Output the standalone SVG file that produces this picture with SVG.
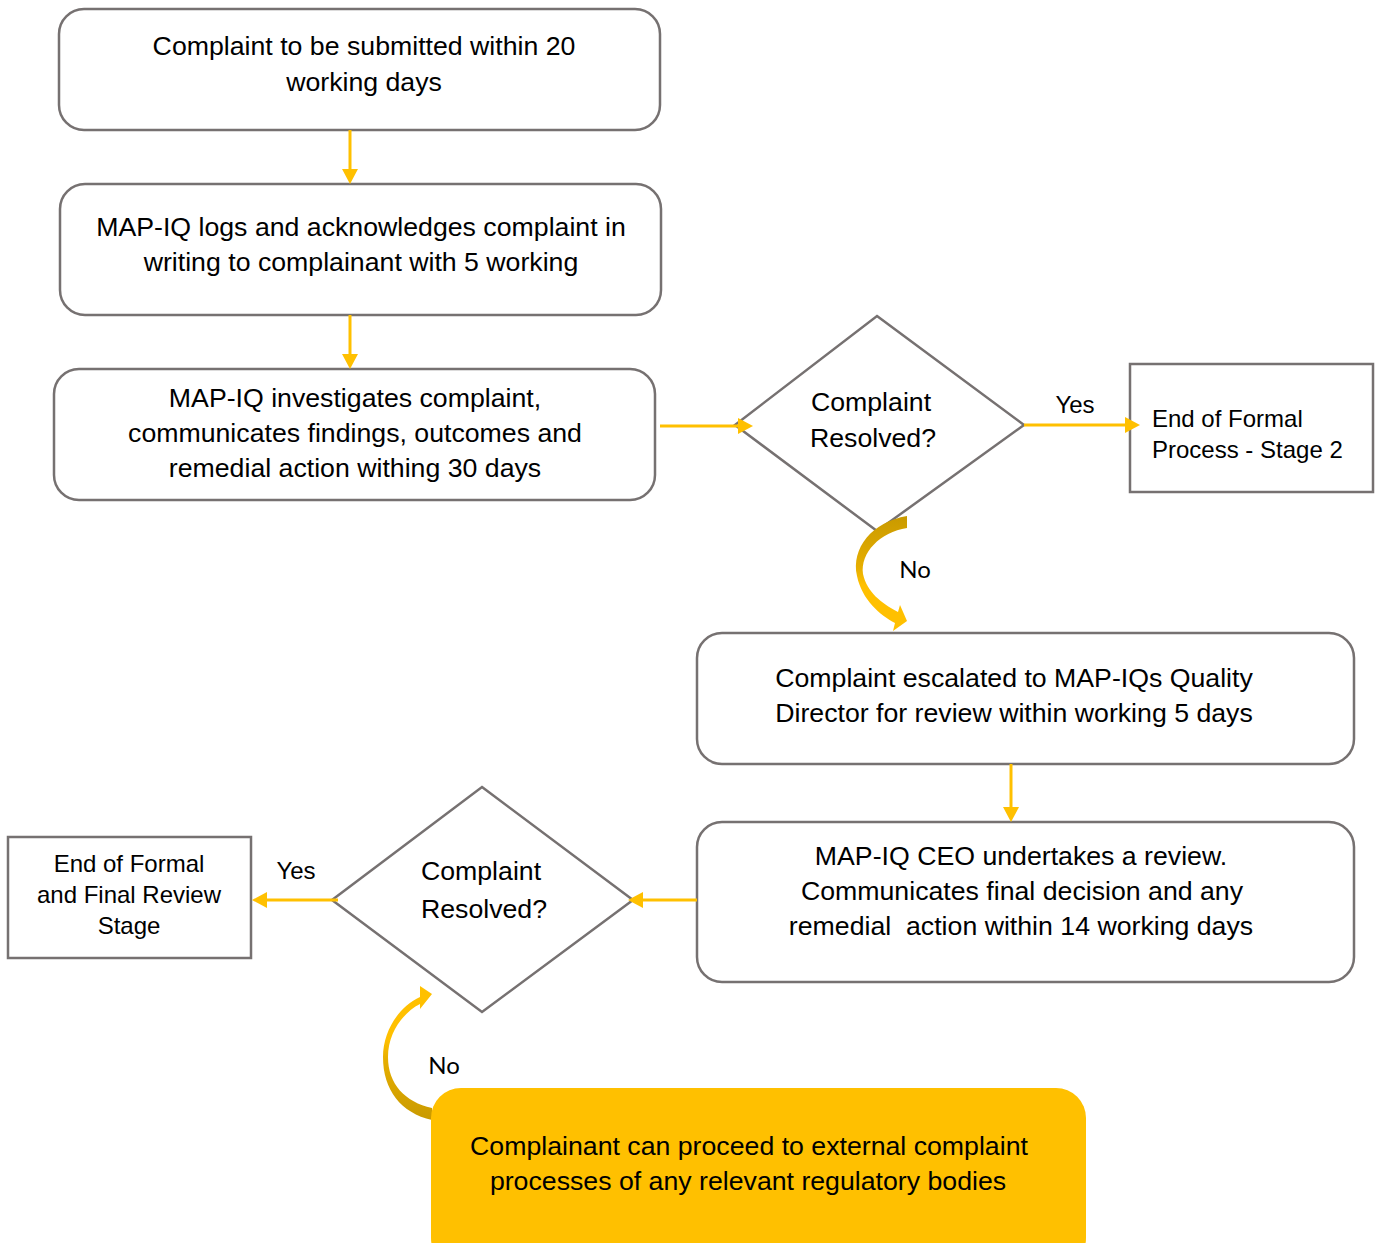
<svg xmlns="http://www.w3.org/2000/svg" width="1377" height="1243" viewBox="0 0 1377 1243">
<defs>
<style>
.box{fill:#fff;stroke:#767171;stroke-width:2.5}
.dia{fill:#fff;stroke:#767171;stroke-width:2.5}
.t{font-family:"Liberation Sans",Arial,sans-serif;font-size:26.7px;fill:#000;text-anchor:middle}
.s{font-family:"Liberation Sans",Arial,sans-serif;font-size:24px;fill:#000}
.no{font-family:Lato,"Liberation Sans",sans-serif;font-size:24px;fill:#000}
.ln{stroke:#FFC000;stroke-width:3;fill:none}
.hd{fill:#FFC000}
</style>
<linearGradient id="g1" x1="0" y1="0" x2="0" y2="1">
<stop offset="0" stop-color="#C99A00"/>
<stop offset="0.45" stop-color="#E6AE00"/>
<stop offset="0.6" stop-color="#FFC000"/>
<stop offset="1" stop-color="#FFC000"/>
</linearGradient>
<linearGradient id="g2" x1="0" y1="1" x2="0" y2="0">
<stop offset="0" stop-color="#C99A00"/>
<stop offset="0.45" stop-color="#E6AE00"/>
<stop offset="0.6" stop-color="#FFC000"/>
<stop offset="1" stop-color="#FFC000"/>
</linearGradient>
</defs>

<g id="n1"><rect class="box" x="59" y="9" width="601" height="121" rx="25"/>
<text class="t" x="364" y="55">Complaint to be submitted within 20</text>
<text class="t" x="364" y="91">working days</text></g>

<g id="n2"><rect class="box" x="60" y="184" width="601" height="131" rx="25"/>
<text class="t" x="361" y="236">MAP-IQ logs and acknowledges complaint in</text>
<text class="t" x="361" y="271">writing to complainant with 5 working</text></g>

<g id="n3"><rect class="box" x="54" y="369" width="601" height="131" rx="25"/>
<text class="t" x="355" y="407">MAP-IQ investigates complaint,</text>
<text class="t" x="355" y="442">communicates findings, outcomes and</text>
<text class="t" x="355" y="477">remedial action withing 30 days</text></g>

<g id="d1"><polygon class="dia" points="877,316 1024,425 877,531 735,425"/>
<text class="t" x="871" y="411">Complaint</text>
<text class="t" x="873" y="447">Resolved?</text></g>

<g id="e1"><rect class="box" x="1130" y="364" width="243" height="128"/>
<text class="s" x="1152" y="427">End of Formal</text>
<text class="s" x="1152" y="458">Process - Stage 2</text></g>

<g id="n4"><rect class="box" x="697" y="633" width="657" height="131" rx="25"/>
<text class="t" x="1014" y="687">Complaint escalated to MAP-IQs Quality</text>
<text class="t" x="1014" y="722">Director for review within working 5 days</text></g>

<g id="n5"><rect class="box" x="697" y="822" width="657" height="160" rx="25"/>
<text class="t" x="1021" y="865">MAP-IQ CEO undertakes a review.</text>
<text class="t" x="1022" y="900">Communicates final decision and any</text>
<text class="t" x="1021" y="935" xml:space="preserve">remedial  action within 14 working days</text></g>

<g id="d2"><polygon class="dia" points="482,787 633,900 482,1012 332,900"/>
<text class="t" x="481" y="880">Complaint</text>
<text class="t" x="484" y="918">Resolved?</text></g>

<g id="e2"><rect class="box" x="8" y="837" width="243" height="121"/>
<text class="s" x="129" y="872" text-anchor="middle">End of Formal</text>
<text class="s" x="129" y="903" text-anchor="middle">and Final Review</text>
<text class="s" x="129" y="934" text-anchor="middle">Stage</text></g>

<g id="connectors">
<line class="ln" x1="350" y1="130" x2="350" y2="170"/>
<polygon class="hd" points="342,169 358,169 350,184"/>
<line class="ln" x1="350" y1="315" x2="350" y2="355"/>
<polygon class="hd" points="342,354 358,354 350,369"/>
<line class="ln" x1="660" y1="426" x2="740" y2="426"/>
<polygon class="hd" points="738,418 738,434 753,426"/>
<line class="ln" x1="1024" y1="425" x2="1127" y2="425"/>
<polygon class="hd" points="1125,417 1125,433 1140,425"/>
<text class="s" x="1075" y="413" text-anchor="middle">Yes</text>
<path fill="url(#g1)" d="M907,516 C872,522 851,548 857,576 C862,600 880,615 895,623 L893,631 L907,621 L900,605 L898,612 C881,603 867,592 863,574 C860,553 880,532 907,528 Z"/>
<text class="no" x="915" y="578" text-anchor="middle">No</text>
<line class="ln" x1="1011" y1="764" x2="1011" y2="808"/>
<polygon class="hd" points="1003,807 1019,807 1011,822"/>
<line class="ln" x1="697" y1="900" x2="640" y2="900"/>
<polygon class="hd" points="643,892 643,908 628,900"/>
<line class="ln" x1="338" y1="900" x2="264" y2="900"/>
<polygon class="hd" points="267,892 267,908 252,900"/>
<text class="s" x="296" y="879" text-anchor="middle">Yes</text>
<path fill="url(#g2)" d="M432,1120 C401,1113 383,1090 383,1057 C383,1030 400,1006 420,997 L420,986 L432,994 L420,1009 L420,1004 C404,1012 388,1032 388,1057 C388,1084 405,1102 432,1108 Z"/>
<text class="no" x="444" y="1074" text-anchor="middle">No</text>
</g>

<g id="n6"><rect x="431" y="1088" width="655" height="180" rx="30" fill="#FFC000"/>
<text class="t" x="749" y="1155">Complainant can proceed to external complaint</text>
<text class="t" x="748" y="1190">processes of any relevant regulatory bodies</text></g>
</svg>
